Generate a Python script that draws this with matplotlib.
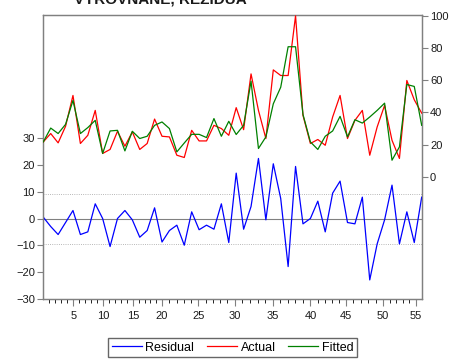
import matplotlib.pyplot as plt
import numpy as np
import matplotlib
matplotlib.rcParams['font.family'] = ['Liberation Sans', 'DejaVu Sans']

# ─── Data ──────────────────────────────────────────────────────
obs = np.arange(1, 53)

actual = [21.7, 26.9, 21.1, 31.4, 50.6, 20.7, 25.8, 41.3, 14.5, 17.0,
          28.3, 19.0, 27.9, 17.0, 20.7, 35.9, 25.2, 24.8, 13.4, 12.0,
          28.9, 22.3, 22.3, 32.0, 30.0, 25.8, 43.0, 29.3, 64.0, 41.3,
          23.8, 66.5, 63.0, 63.0, 100.1, 38.2, 20.7, 23.2, 19.6, 37.2,
          50.6, 23.8, 35.1, 41.3, 13.4, 31.0, 44.4, 22.7, 11.4, 59.9,
          47.9, 39.6]

fitted = [21.7, 30.3, 26.9, 32.6, 47.5, 26.9, 30.6, 35.1, 14.5, 28.5,
          28.9, 16.1, 28.3, 23.8, 25.2, 32.0, 34.1, 30.0, 15.5, 21.0,
          26.4, 26.4, 24.4, 36.2, 25.2, 34.5, 26.3, 32.0, 59.5, 17.6,
          24.8, 45.4, 55.7, 80.9, 80.9, 38.8, 21.7, 17.0, 25.2, 28.5,
          37.6, 24.8, 35.5, 33.4, 37.2, 41.3, 45.8, 10.3, 18.6, 57.4,
          56.2, 32.0]

residual = [0.5, -3.0, -6.0, -1.5, 3.0, -6.0, -5.0, 5.5, 0.0, -10.5,
            0.0, 3.0, -0.5, -7.0, -4.5, 4.0, -8.8, -4.5, -2.5, -10.0,
            2.5, -4.2, -2.5, -4.0, 5.5, -9.0, 17.0, -4.0, 4.5, 22.5,
            -0.5, 20.5, 7.5, -18.0, 19.5, -2.0, 0.0, 6.5, -5.0, 9.5,
            14.0, -1.5, -2.0, 8.0, -23.0, -9.5, -0.5, 12.5, -9.5, 2.5,
            -9.0, 8.0]

resid_se = 9.36

tick_labels = ['5', '10', '15', '20', '25', '30', '35', '40', '45', '50', '55']
tick_pos = [5.04, 9.08, 13.1, 17.0, 21.9, 26.8, 31.95, 37.0, 41.8, 46.8, 51.2]

# ─── Style ─────────────────────────────────────────────────────
BLUE  = '#0000FF'
RED   = '#FF0000'
GREEN = '#008000'
FRAME = '#808080'
TXT   = '#1a1a1a'

fig = plt.figure(figsize=(4.51, 3.59), dpi=100)
ax = fig.add_axes([0.096, 0.166, 0.839, 0.792])
ax2 = ax.twinx()

# residual (left axis)
ax.axhline(0, color=FRAME, lw=0.8, zorder=1)
ax.axhline(resid_se, color='#a0a0a0', lw=0.6, ls=':', zorder=1)
ax.axhline(-resid_se, color='#a0a0a0', lw=0.6, ls=':', zorder=1)
l1, = ax.plot(obs, residual, color=BLUE, lw=0.9, label='Residual', zorder=3)
ax.set_ylim(-30.3, 76.2)
ax.set_yticks([-30, -20, -10, 0, 10, 20, 30])

# actual / fitted (right axis)
l2, = ax2.plot(obs, actual, color=RED, lw=0.9, label='Actual', zorder=3)
l3, = ax2.plot(obs, fitted, color=GREEN, lw=0.9, label='Fitted', zorder=4)
ax2.set_ylim(-76.3, 100.6)
ax2.set_yticks([0, 20, 40, 60, 80, 100])

ax.set_xlim(1, 52)
ax.set_xticks(tick_pos)
ax.set_xticklabels(tick_labels)
# minor ticks: four between each pair of labelled ticks
minor = []
edges = [tick_pos[0] - (tick_pos[1] - tick_pos[0])] + tick_pos
for a, b in zip(edges[:-1], edges[1:]):
    minor += list(np.linspace(a, b, 6)[1:-1])
minor += [tick_pos[-1] + (tick_pos[-1] - tick_pos[-2]) / 5 * k for k in (1, 2, 3, 4)]
ax.set_xticks([m for m in minor if 1 <= m <= 52], minor=True)

for a in (ax, ax2):
    for s in a.spines.values():
        s.set_color(FRAME)
        s.set_linewidth(0.9)
    a.tick_params(colors=FRAME, labelcolor=TXT, labelsize=8, width=0.8)
ax.tick_params(axis='y', length=4, pad=2)
ax2.tick_params(axis='y', length=4, pad=2)
ax.tick_params(axis='x', which='major', length=5, pad=3)
ax.tick_params(axis='x', which='minor', length=3, width=0.6)

fig.text(0.355, 0.989, 'VYROVNANÉ, REZIDUA', ha='center', va='baseline',
         fontsize=11, fontweight='bold', color=TXT)

fig.legend(handles=[l1, l2, l3], loc='upper center', ncol=3,
           bbox_to_anchor=(0.5155, 0.0585), fontsize=9, frameon=True,
           fancybox=False, edgecolor='#404040', handlelength=2.4,
           handletextpad=0.3, columnspacing=1.0, borderpad=0.3,
           borderaxespad=0)

fig.savefig('out.png', dpi=100)
